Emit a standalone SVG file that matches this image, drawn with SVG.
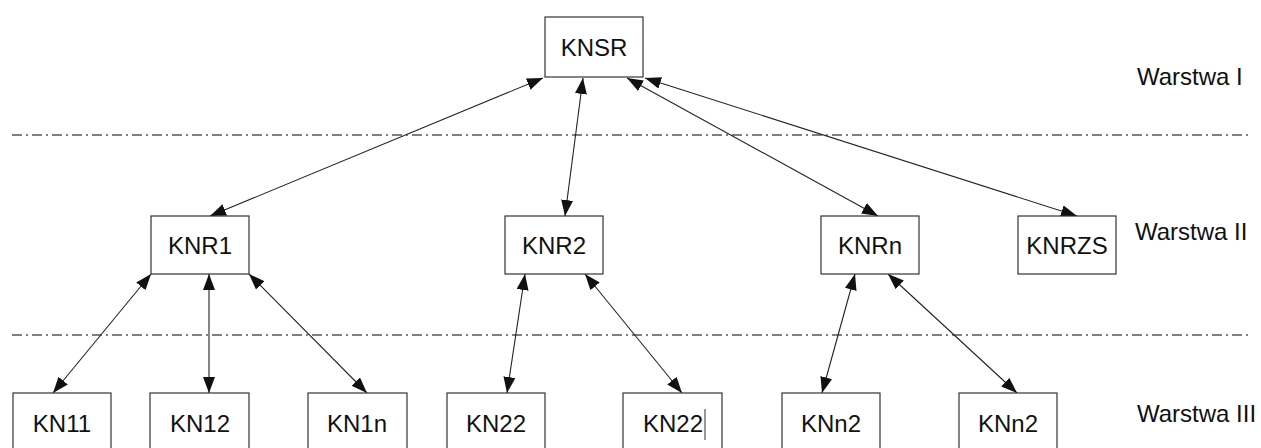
<svg xmlns="http://www.w3.org/2000/svg" width="1261" height="448" viewBox="0 0 1261 448">
<style>
.box{fill:#fff;stroke:#333;stroke-width:1.2}
.t{font-family:"Liberation Sans",Arial,sans-serif;font-size:24px;fill:#111;text-anchor:middle}
.lbl{font-family:"Liberation Sans",Arial,sans-serif;font-size:24px;fill:#111}
.c{stroke:#222;stroke-width:1.1;fill:none;marker-start:url(#ah);marker-end:url(#ah)}
.sep{stroke:#555;stroke-width:1.3;stroke-dasharray:10 4 2 4;fill:none}
</style>
<defs>
<marker id="ah" markerUnits="userSpaceOnUse" markerWidth="18" markerHeight="14" refX="16" refY="6" orient="auto-start-reverse">
<path d="M0,0 L16,6 L0,12 z" fill="#111"/>
</marker>
</defs>
<g id="separators">
<line class="sep" x1="12" y1="135" x2="1250" y2="135"/>
<line class="sep" x1="12" y1="335" x2="1250" y2="335"/>
</g>
<g id="connectors">
<line class="c" x1="543" y1="78" x2="210" y2="216"/>
<line class="c" x1="583" y1="78" x2="565" y2="216"/>
<line class="c" x1="627" y1="78" x2="878" y2="216"/>
<line class="c" x1="645" y1="78" x2="1077" y2="216"/>
<line class="c" x1="151" y1="274" x2="53" y2="393"/>
<line class="c" x1="209" y1="274" x2="209" y2="393"/>
<line class="c" x1="249" y1="274" x2="367" y2="393"/>
<line class="c" x1="525" y1="274" x2="507" y2="393"/>
<line class="c" x1="585" y1="274" x2="682" y2="393"/>
<line class="c" x1="855" y1="274" x2="822" y2="393"/>
<line class="c" x1="888" y1="274" x2="1017" y2="393"/>
</g>
<g id="KNSR"><rect class="box" x="545" y="17" width="98" height="60"/><text class="t" x="594" y="56">KNSR</text></g>
<g id="KNR1"><rect class="box" x="151" y="216" width="98" height="58"/><text class="t" x="200" y="254">KNR1</text></g>
<g id="KNR2"><rect class="box" x="505" y="216" width="98" height="58"/><text class="t" x="554" y="254">KNR2</text></g>
<g id="KNRn"><rect class="box" x="821" y="216" width="98" height="58"/><text class="t" x="870" y="254">KNRn</text></g>
<g id="KNRZS"><rect class="box" x="1018" y="216" width="98" height="58"/><text class="t" x="1067" y="254">KNRZS</text></g>
<g id="KN11"><rect class="box" x="13" y="393" width="98" height="62"/><text class="t" x="62" y="432">KN11</text></g>
<g id="KN12"><rect class="box" x="150" y="393" width="99" height="62"/><text class="t" x="200" y="432">KN12</text></g>
<g id="KN1n"><rect class="box" x="308" y="393" width="99" height="62"/><text class="t" x="357" y="432">KN1n</text></g>
<g id="KN22a"><rect class="box" x="447" y="393" width="98" height="62"/><text class="t" x="496" y="432">KN22</text></g>
<g id="KN22b"><rect class="box" x="623" y="393" width="99" height="62"/><text class="t" x="673" y="432">KN22</text><line x1="705" y1="409" x2="705" y2="440" stroke="#333" stroke-width="1"/></g>
<g id="KNn2a"><rect class="box" x="782" y="393" width="98" height="62"/><text class="t" x="831" y="432">KNn2</text></g>
<g id="KNn2b"><rect class="box" x="959" y="393" width="98" height="62"/><text class="t" x="1008" y="432">KNn2</text></g>
<g id="layers">
<text class="lbl" x="1137" y="85">Warstwa I</text>
<text class="lbl" x="1135" y="240">Warstwa II</text>
<text class="lbl" x="1137" y="422">Warstwa III</text>
</g>
</svg>
